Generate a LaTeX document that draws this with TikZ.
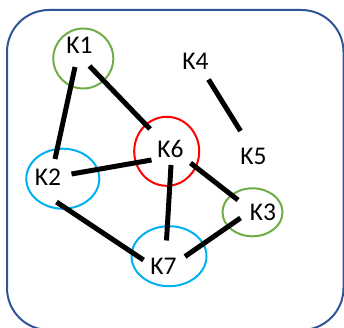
\documentclass[tikz,border=0pt]{standalone}
\usepackage{fontspec}
\setmainfont{Carlito}
\usetikzlibrary{calc,shapes.geometric}
\definecolor{frameblue}{HTML}{2F5597}
\definecolor{ringgreen}{HTML}{70AD47}
\definecolor{ringblue}{HTML}{00B0F0}
\definecolor{ringred}{HTML}{FF0000}
\begin{document}
\begin{tikzpicture}[x=1pt,y=-1pt,
  lbl/.style={inner sep=0pt, font=\fontsize{25.5}{30}\selectfont},
  ring/.style={draw=#1, line width=2pt, ellipse, inner sep=0pt},
  edge/.style={line width=5pt, black}]
\useasboundingbox (0,0) rectangle (344,328);
\draw[frameblue, line width=2pt, rounded corners=42pt] (7,10) rectangle (343.5,330);
% rings
\node[ring=ringgreen, minimum width=60pt, minimum height=60pt] (c1) at (83.3,58.5) {};
\node[ring=ringblue, minimum width=73pt, minimum height=60pt] (c2) at (62.8,178.7) {};
\node[ring=ringred, minimum width=65pt, minimum height=69pt] (c6) at (166.7,151.3) {};
\node[ring=ringgreen, minimum width=60pt, minimum height=48pt] (c3) at (252.5,212.3) {};
\node[ring=ringblue, minimum width=75pt, minimum height=60pt] (c7) at (169,256.2) {};
% labels
\node[lbl] (t1) at (79.5,45) {K1};
\node[lbl] (t2) at (48,177) {K2};
\node[lbl] (t3) at (263,212) {K3};
\node[lbl] (t4) at (195.5,61.5) {K4};
\node[lbl] (t5) at (253.5,156.5) {K5};
\node[lbl] (t6) at (170.5,149) {K6};
\node[lbl] (t7) at (163.5,266.5) {K7};
% connectors
\draw[edge] ($(t1)+(-4.5,22)$) -- ($(t2)+(7,-18)$);
\draw[edge] ($(t1)+(10,21)$) -- ($(t6)+(-20.5,-20)$);
\draw[edge] ($(t4)+(13,18)$) -- ($(t5)+(-13,-25.5)$);
\draw[edge] ($(t2)+(23.5,-3)$) -- ($(t6)+(-19,11)$);
\draw[edge] ($(t6)+(0.5,16)$) -- ($(t7)+(3,-26)$);
\draw[edge] ($(t6)+(20,14)$) -- ($(t3)+(-25,-12)$);
\draw[edge] ($(t2)+(8.5,25)$) -- ($(t7)+(-20,-6.5)$);
\draw[edge] ($(t7)+(21.5,-10)$) -- ($(t3)+(-22.5,6)$);
\end{tikzpicture}
\end{document}
